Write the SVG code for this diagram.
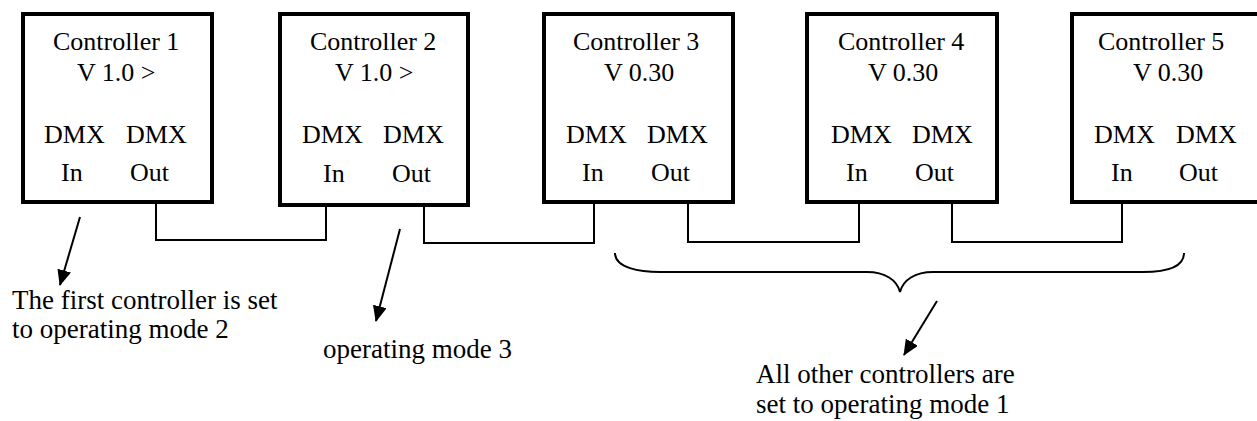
<svg xmlns="http://www.w3.org/2000/svg" width="1257" height="421" viewBox="0 0 1257 421" font-family="Liberation Serif, DejaVu Serif, serif">
<style>
  .box { fill: #fff; stroke: #000; stroke-width: 4; }
  text { font-family: 'Liberation Serif', 'DejaVu Serif', serif; fill: #000; }
  .t { font-size: 26px; }
  .a { font-size: 27px; }
  .wire { fill: none; stroke: #000; stroke-width: 2; }
  .arrow { fill: none; stroke: #000; stroke-width: 2; marker-end: url(#ah); }
</style>
<defs>
  <marker id="ah" markerUnits="userSpaceOnUse" markerWidth="16" markerHeight="14" refX="15" refY="7" orient="auto">
    <path d="M0,0 L16,7 L0,14 Z" fill="#000"/>
  </marker>
</defs>
<rect width="1257" height="421" fill="#fff"/>

<g id="connectors">
  <path class="wire" d="M156,204 V240 H326 V202"/>
  <path class="wire" d="M424,207 V243 H594 V204"/>
  <path class="wire" d="M688,204 V242 H859 V204"/>
  <path class="wire" d="M952,204 V242 H1122 V204"/>
  <path class="arrow" d="M80,217 L60,285"/>
  <path class="arrow" d="M400,229 L376,321"/>
  <path class="arrow" d="M937,301 L904,355"/>
  <path class="wire" d="M615,253 C615,268 640,272 660,272 L867,272 C885,272 897,280 900,292 C903,280 915,272 933,272 L1143,272 C1165,272 1184,268 1184,253"/>
</g>

<g id="controller1" font-family="Liberation Serif">
  <rect class="box" x="23" y="14" width="189" height="188"/>
  <text class="t" x="53" y="50">Controller 1</text>
  <text class="t" x="77" y="81">V 1.0 &gt;</text>
  <text class="t" x="44" y="143">DMX</text>
  <text class="t" x="126" y="143">DMX</text>
  <text class="t" x="61" y="181">In</text>
  <text class="t" x="130" y="181">Out</text>
</g>
<g id="controller2">
  <rect class="box" x="280" y="14" width="188" height="191"/>
  <text class="t" x="310" y="50">Controller 2</text>
  <text class="t" x="335" y="81">V 1.0 &gt;</text>
  <text class="t" x="302" y="143">DMX</text>
  <text class="t" x="383" y="143">DMX</text>
  <text class="t" x="323" y="182">In</text>
  <text class="t" x="392" y="182">Out</text>
</g>
<g id="controller3">
  <rect class="box" x="544" y="14" width="189" height="188"/>
  <text class="t" x="573" y="50">Controller 3</text>
  <text class="t" x="604" y="81">V 0.30</text>
  <text class="t" x="566" y="143">DMX</text>
  <text class="t" x="647" y="143">DMX</text>
  <text class="t" x="582" y="181">In</text>
  <text class="t" x="651" y="181">Out</text>
</g>
<g id="controller4">
  <rect class="box" x="807" y="14" width="190" height="188"/>
  <text class="t" x="838" y="50">Controller 4</text>
  <text class="t" x="868" y="81">V 0.30</text>
  <text class="t" x="831" y="143">DMX</text>
  <text class="t" x="912" y="143">DMX</text>
  <text class="t" x="846" y="181">In</text>
  <text class="t" x="915" y="181">Out</text>
</g>
<g id="controller5">
  <rect class="box" x="1072" y="14" width="190" height="188"/>
  <text class="t" x="1098" y="50">Controller 5</text>
  <text class="t" x="1133" y="81">V 0.30</text>
  <text class="t" x="1094" y="143">DMX</text>
  <text class="t" x="1176" y="143">DMX</text>
  <text class="t" x="1111" y="181">In</text>
  <text class="t" x="1179" y="181">Out</text>
</g>

<g id="note1">
  <text class="a" x="12" y="309">The first controller is set</text>
  <text class="a" x="12" y="338">to operating mode 2</text>
</g>
<g id="note2">
  <text class="a" x="323" y="358">operating mode 3</text>
</g>
<g id="note3">
  <text class="a" x="756" y="383">All other controllers are</text>
  <text class="a" x="756" y="413">set to operating mode 1</text>
</g>
</svg>
